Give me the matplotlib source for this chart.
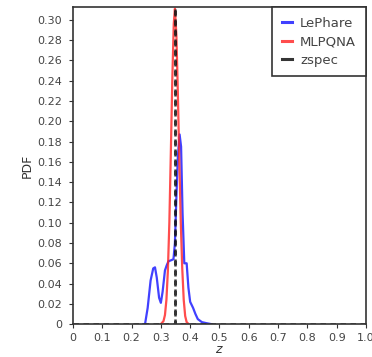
import numpy as np
import matplotlib
matplotlib.use('Agg')
import matplotlib.pyplot as plt

# LePhare PDF (okunan degerler)
lephare_z = [0.240, 0.246, 0.255, 0.265, 0.274, 0.280, 0.286, 0.294, 0.300, 0.306,
             0.314, 0.320, 0.326, 0.335, 0.343, 0.348, 0.353, 0.358, 0.364, 0.369,
             0.374, 0.380, 0.388, 0.394, 0.400, 0.410, 0.418, 0.426, 0.440, 0.455, 0.473]
lephare_pdf = [0.0, 0.0, 0.016, 0.043, 0.055, 0.056, 0.046, 0.026, 0.021, 0.032,
               0.053, 0.058, 0.062, 0.063, 0.064, 0.080, 0.125, 0.165, 0.187, 0.175,
               0.110, 0.060, 0.060, 0.036, 0.022, 0.016, 0.010, 0.005, 0.002, 0.001, 0.0]

# MLPQNA PDF
mlpqna_z = [0.300, 0.309, 0.314, 0.319, 0.324, 0.329, 0.334, 0.339, 0.344, 0.348,
            0.353, 0.358, 0.363, 0.368, 0.373, 0.378, 0.383, 0.388, 0.395]
mlpqna_pdf = [0.0, 0.003, 0.009, 0.024, 0.053, 0.100, 0.168, 0.240, 0.296, 0.311,
              0.285, 0.228, 0.160, 0.100, 0.055, 0.024, 0.008, 0.002, 0.0]

# zspec (delta)
zspec = 0.347
zspec_z = [0.0, zspec, zspec, zspec, 1.0]
zspec_pdf = [0.0, 0.0, 0.4, 0.0, 0.0]

xticks = [0, 0.1, 0.2, 0.3, 0.4, 0.5, 0.6, 0.7, 0.8, 0.9, 1.0]
xlabels = ['0', '0.1', '0.2', '0.3', '0.4', '0.5', '0.6', '0.7', '0.8', '0.9', '1.0']
yticks = [0, 0.02, 0.04, 0.06, 0.08, 0.10, 0.12, 0.14, 0.16, 0.18, 0.20, 0.22, 0.24, 0.26, 0.28, 0.30]
ylabels = ['0'] + ['%.2f' % v for v in yticks[1:]]

fig = plt.figure(figsize=(3.72, 3.57), dpi=100)
ax = fig.add_axes([0.196, 0.092, 0.788, 0.888])

ax.plot(lephare_z, lephare_pdf, color='#2020ff', linewidth=1.6, label='LePhare', alpha=0.85)
ax.plot(mlpqna_z, mlpqna_pdf, color='#ff2020', linewidth=1.6, label='MLPQNA', alpha=0.8)
ax.plot(zspec_z, zspec_pdf, color='#111111', linestyle='--', linewidth=1.8,
        dashes=(2.2, 1.8), label='zspec', alpha=0.85)

ax.set_xlim(0, 1.0)
ax.set_ylim(0, 0.3125)
ax.set_xticks(xticks)
ax.set_xticklabels(xlabels)
ax.set_yticks(yticks)
ax.set_yticklabels(ylabels)
ax.tick_params(labelsize=8, length=3, direction='out', colors='#333333', labelcolor='#444444')
ax.tick_params(axis='y', pad=5)
ax.set_xlabel('$z$', fontsize=9, labelpad=0, color='#333333')
ax.set_ylabel('PDF', fontsize=9, color='#333333', labelpad=2)
for s in ax.spines.values():
    s.set_linewidth(1.2)
    s.set_color('#333333')

leg = ax.legend(loc='upper right', fontsize=9.5, handlelength=0.8, handletextpad=0.6,
                fancybox=False, framealpha=1, borderaxespad=0, borderpad=0.75,
                labelspacing=0.4)
leg.get_frame().set_edgecolor('#333333')
leg.get_frame().set_linewidth(1.2)
for t in leg.get_texts():
    t.set_color('#444444')
for h in leg.get_lines():
    h.set_linestyle('-')
    h.set_linewidth(2.2)

fig.savefig('out.png', dpi=100)
